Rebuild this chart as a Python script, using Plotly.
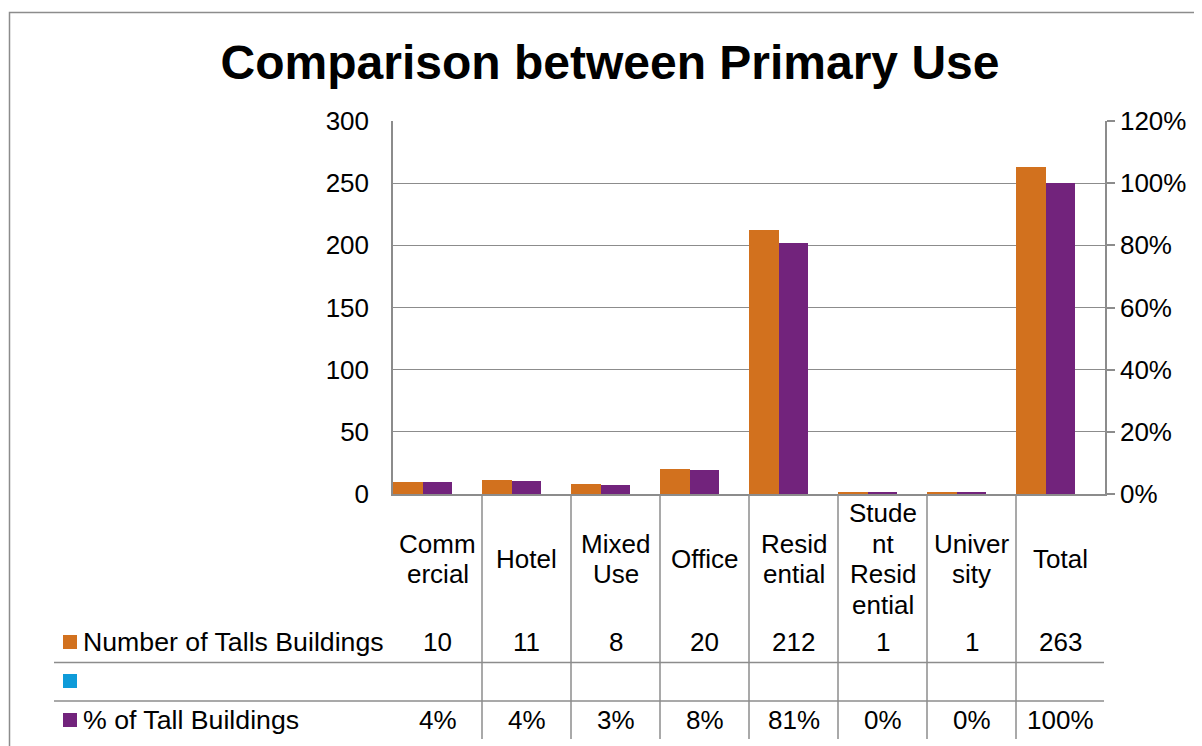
import plotly.graph_objects as go

# ---------------- data ----------------
categories = ["Commercial", "Hotel", "Mixed Use", "Office", "Residential",
              "Student Residential", "University", "Total"]
category_label_lines = [["Comm", "ercial"], ["Hotel"], ["Mixed", "Use"], ["Office"],
                        ["Resid", "ential"], ["Stude", "nt", "Resid", "ential"],
                        ["Univer", "sity"], ["Total"]]
count_values = [10, 11, 8, 20, 212, 1, 1, 263]
pct_values = [0.038, 0.042, 0.030, 0.076, 0.806, 0.004, 0.004, 1.0]
count_labels = ["10", "11", "8", "20", "212", "1", "1", "263"]
pct_labels = ["4%", "4%", "3%", "8%", "81%", "0%", "0%", "100%"]
series_names = ["Number of Talls Buildings", "", "% of Tall Buildings"]
series_colors = ["#D2711E", "#0E9BD9", "#72237C"]
left_ticks = [0, 50, 100, 150, 200, 250, 300]
right_ticks = [0, 0.2, 0.4, 0.6, 0.8, 1.0, 1.2]

# ---------------- layout geometry (screen pixels) ----------------
SW, SH = 1202, 746          # browser window
OFF = 8                     # default body margin of the html page
W, H = SW - OFF, SH - OFF   # figure size
PL, PR, PT, PB = 393, 1105, 121, 494  # plot area in screen pixels
FONT = "Liberation Sans, Arial, sans-serif"
GRID = "#8c8c8c"


def px_x(x):
    return (x - PL) / (PR - PL)


def px_y(y):
    return (PB - y) / (PB - PT)


fig = go.Figure()
fig.add_trace(go.Bar(x=categories, y=count_values, name=series_names[0],
                     marker=dict(color=series_colors[0], line=dict(width=0)),
                     offset=-0.5, width=1 / 3, yaxis="y"))
fig.add_trace(go.Bar(x=categories, y=pct_values, name=series_names[2],
                     marker=dict(color=series_colors[2], line=dict(width=0)),
                     offset=-0.5 + 1 / 3, width=1 / 3, yaxis="y2"))

annotations = []
shapes = []

# category labels (wrapped like the Excel data table header)
line_gap = 30.6
for cat, lines in zip(categories, category_label_lines):
    n = len(lines)
    for k, txt in enumerate(lines):
        ypix = 559 + (k - (n - 1) / 2) * line_gap
        annotations.append(dict(x=cat, xref="x", y=px_y(ypix), yref="paper",
                                text=txt, showarrow=False, xanchor="center",
                                yanchor="middle",
                                font=dict(family=FONT, size=26, color="#000")))

# table values
row_y = [642, 681, 720]
for cat, c, p in zip(categories, count_labels, pct_labels):
    annotations.append(dict(x=cat, xref="x", y=px_y(row_y[0]), yref="paper",
                            text=c, showarrow=False, xanchor="center", yanchor="middle",
                            font=dict(family=FONT, size=26, color="#000")))
    annotations.append(dict(x=cat, xref="x", y=px_y(row_y[2]), yref="paper",
                            text=p, showarrow=False, xanchor="center", yanchor="middle",
                            font=dict(family=FONT, size=26, color="#000")))

# row legend keys and names
for name, col, ry in zip(series_names, series_colors, row_y):
    shapes.append(dict(type="rect", xref="paper", yref="paper",
                       x0=px_x(63), x1=px_x(77), y0=px_y(ry - 7), y1=px_y(ry + 7),
                       fillcolor=col, line=dict(width=0)))
    if name:
        annotations.append(dict(x=px_x(80.5), xref="paper", y=px_y(ry), yref="paper",
                                text=name, showarrow=False, xanchor="left",
                                yanchor="middle",
                                font=dict(family=FONT, size=26.7, color="#000")))

# table grid lines
for i in range(1, len(categories)):
    shapes.append(dict(type="line", xref="x", yref="paper", x0=i - 0.5, x1=i - 0.5,
                       y0=0, y1=px_y(739), line=dict(color=GRID, width=1.5)))
for ly in [662.5, 701]:
    shapes.append(dict(type="line", xref="paper", yref="paper", x0=px_x(54), x1=px_x(1104),
                       y0=px_y(ly), y1=px_y(ly), line=dict(color=GRID, width=1.5)))

# outer chart border (extends past right and bottom edges)
shapes.append(dict(type="rect", xref="paper", yref="paper",
                   x0=px_x(9.5), x1=px_x(1250), y0=px_y(800), y1=px_y(12.5),
                   line=dict(color="#8c8c8c", width=1.5), fillcolor="rgba(0,0,0,0)"))

fig.update_layout(
    width=W, height=H,
    margin=dict(l=PL - OFF, r=SW - PR, t=PT - OFF, b=SH - PB, pad=0),
    paper_bgcolor="white", plot_bgcolor="white",
    showlegend=False, barmode="overlay", bargap=0,
    title=dict(text="<b>Comparison between Primary Use</b>", x=(610 - OFF) / W,
               xanchor="center", y=1 - (62 - OFF) / H, yanchor="middle", yref="container",
               font=dict(family=FONT, size=48, color="#000")),
    xaxis=dict(type="category", range=[-0.5, len(categories) - 0.5], showticklabels=False,
               showgrid=False, showline=True, linecolor=GRID, linewidth=1.5, ticks=""),
    yaxis=dict(range=[0, 300], tickvals=left_ticks, showgrid=True, gridcolor=GRID,
               gridwidth=1, showline=True, linecolor=GRID, linewidth=1.5, ticks="",
               ticklabelstandoff=17, zeroline=False,
               tickfont=dict(family=FONT, size=26, color="#000")),
    yaxis2=dict(range=[0, 1.2], tickvals=right_ticks, tickformat=".0%", overlaying="y",
                side="right", showgrid=False, showline=True, linecolor=GRID, linewidth=1.5,
                ticks="outside", ticklen=8, tickcolor=GRID, tickwidth=1.5,
                ticklabelstandoff=0, zeroline=False,
                tickfont=dict(family=FONT, size=26, color="#000")),
    annotations=annotations, shapes=shapes,
)

fig.write_html("out.html")
